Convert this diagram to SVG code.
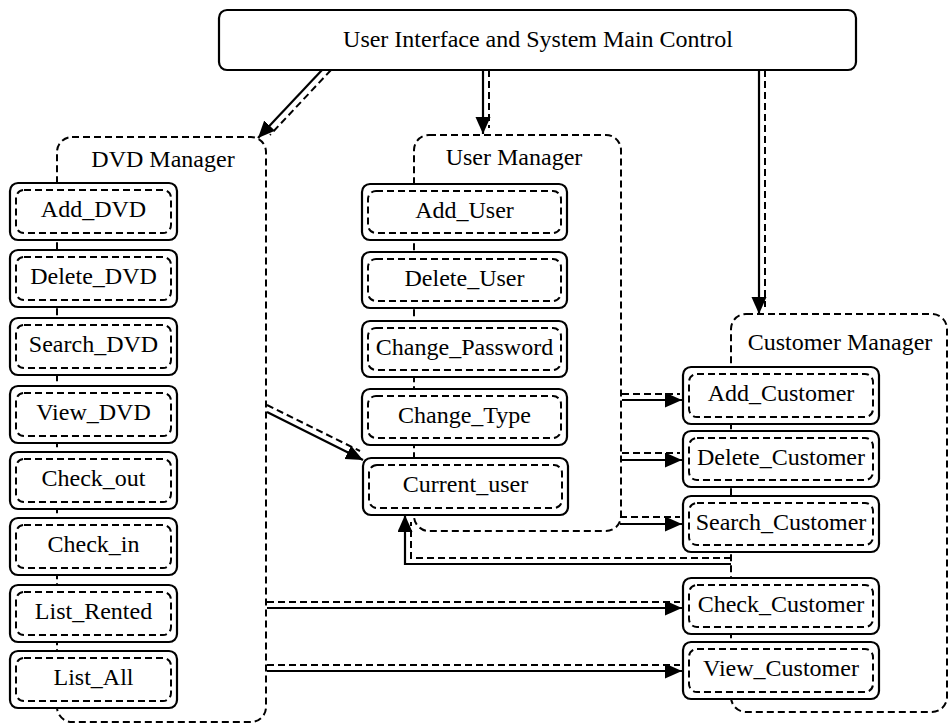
<svg xmlns="http://www.w3.org/2000/svg" width="951" height="725" viewBox="0 0 951 725">
<style>
  text { font-family: "Liberation Serif", "Times New Roman", serif; font-size: 24px; fill: #000; text-anchor: middle; }
  .box { fill: #fff; stroke: #000; stroke-width: 2.2; }
  .inner { fill: none; stroke: #000; stroke-width: 2; stroke-dasharray: 7 4; }
  .cont { fill: none; stroke: #000; stroke-width: 2; stroke-dasharray: 7 4; }
  .sol { fill: none; stroke: #000; stroke-width: 2.2; }
  .dash { fill: none; stroke: #000; stroke-width: 2; stroke-dasharray: 7 4; }
</style>
<defs>
  <marker id="ah" markerUnits="userSpaceOnUse" markerWidth="18" markerHeight="16" refX="17" refY="7.5" orient="auto">
    <path d="M0,0 L17,7.5 L0,15 z" fill="#000"/>
  </marker>
</defs>
<rect width="951" height="725" fill="#fff"/>

<g id="containers">
  <g id="dvd-manager">
    <rect class="cont" x="57" y="137" width="209" height="585" rx="15"/>
    <text x="163" y="167">DVD Manager</text>
  </g>
  <g id="user-manager">
    <rect class="cont" x="414" y="135" width="207" height="396" rx="15"/>
    <text x="514" y="165">User Manager</text>
  </g>
  <g id="customer-manager">
    <rect class="cont" x="731" y="314" width="216" height="398" rx="15"/>
    <text x="840" y="350">Customer Manager</text>
  </g>
</g>

<g id="main-control">
  <rect class="box" x="219" y="10" width="637" height="60" rx="8"/>
  <text x="538" y="47">User Interface and System Main Control</text>
</g>

<g id="add-dvd"><rect class="box" x="10" y="183" width="167" height="57" rx="8"/><rect class="inner" x="16" y="190" width="155" height="43" rx="8"/><text x="93.5" y="217">Add_DVD</text></g>
<g id="delete-dvd"><rect class="box" x="10" y="250" width="167" height="57" rx="8"/><rect class="inner" x="16" y="257" width="155" height="43" rx="8"/><text x="93.5" y="284">Delete_DVD</text></g>
<g id="search-dvd"><rect class="box" x="10" y="318" width="167" height="57" rx="8"/><rect class="inner" x="16" y="325" width="155" height="43" rx="8"/><text x="93.5" y="352">Search_DVD</text></g>
<g id="view-dvd"><rect class="box" x="10" y="386" width="167" height="57" rx="8"/><rect class="inner" x="16" y="393" width="155" height="43" rx="8"/><text x="93.5" y="420">View_DVD</text></g>
<g id="check-out"><rect class="box" x="10" y="452" width="167" height="57" rx="8"/><rect class="inner" x="16" y="459" width="155" height="43" rx="8"/><text x="93.5" y="486">Check_out</text></g>
<g id="check-in"><rect class="box" x="10" y="518" width="167" height="57" rx="8"/><rect class="inner" x="16" y="525" width="155" height="43" rx="8"/><text x="93.5" y="552">Check_in</text></g>
<g id="list-rented"><rect class="box" x="10" y="585" width="167" height="57" rx="8"/><rect class="inner" x="16" y="592" width="155" height="43" rx="8"/><text x="93.5" y="619">List_Rented</text></g>
<g id="list-all"><rect class="box" x="10" y="651" width="167" height="57" rx="8"/><rect class="inner" x="16" y="658" width="155" height="43" rx="8"/><text x="93.5" y="685">List_All</text></g>

<g id="add-user"><rect class="box" x="362" y="184" width="205" height="56" rx="8"/><rect class="inner" x="368" y="191" width="193" height="42" rx="8"/><text x="464.5" y="218">Add_User</text></g>
<g id="delete-user"><rect class="box" x="362" y="252" width="205" height="56" rx="8"/><rect class="inner" x="368" y="259" width="193" height="42" rx="8"/><text x="464.5" y="286">Delete_User</text></g>
<g id="change-password"><rect class="box" x="362" y="321" width="205" height="56" rx="8"/><rect class="inner" x="368" y="328" width="193" height="42" rx="8"/><text x="464.5" y="355">Change_Password</text></g>
<g id="change-type"><rect class="box" x="362" y="389" width="205" height="56" rx="8"/><rect class="inner" x="368" y="396" width="193" height="42" rx="8"/><text x="464.5" y="423">Change_Type</text></g>
<g id="current-user"><rect class="box" x="363" y="458" width="205" height="57" rx="8"/><rect class="inner" x="369" y="465" width="193" height="43" rx="8"/><text x="465.5" y="492">Current_user</text></g>

<g id="add-customer"><rect class="box" x="683" y="367" width="196" height="57" rx="8"/><rect class="inner" x="689" y="374" width="184" height="43" rx="8"/><text x="781" y="401">Add_Customer</text></g>
<g id="delete-customer"><rect class="box" x="683" y="431" width="196" height="56" rx="8"/><rect class="inner" x="689" y="438" width="184" height="42" rx="8"/><text x="781" y="465">Delete_Customer</text></g>
<g id="search-customer"><rect class="box" x="683" y="496" width="196" height="56" rx="8"/><rect class="inner" x="689" y="503" width="184" height="42" rx="8"/><text x="781" y="530">Search_Customer</text></g>
<g id="check-customer"><rect class="box" x="683" y="578" width="196" height="56" rx="8"/><rect class="inner" x="689" y="585" width="184" height="42" rx="8"/><text x="781" y="612">Check_Customer</text></g>
<g id="view-customer"><rect class="box" x="683" y="642" width="196" height="57" rx="8"/><rect class="inner" x="689" y="649" width="184" height="43" rx="8"/><text x="781" y="676">View_Customer</text></g>

<g id="connectors">
  <path class="sol" d="M322,70 L258,138" marker-end="url(#ah)"/>
  <path class="dash" d="M331,70 L270,135"/>
  <path class="sol" d="M483,70 L483,134" marker-end="url(#ah)"/>
  <path class="dash" d="M489,70 L489,128"/>
  <path class="sol" d="M759,70 L759,314" marker-end="url(#ah)"/>
  <path class="dash" d="M765,70 L765,307"/>
  <path class="sol" d="M267,412 L363,460" marker-end="url(#ah)"/>
  <path class="dash" d="M267,405 L360,451"/>
  <path class="sol" d="M622,400 L682,400" marker-end="url(#ah)"/>
  <path class="dash" d="M622,394 L680,394"/>
  <path class="sol" d="M622,460 L682,460" marker-end="url(#ah)"/>
  <path class="dash" d="M622,453 L680,453"/>
  <path class="sol" d="M620,524 L682,524" marker-end="url(#ah)"/>
  <path class="dash" d="M620,517 L680,517"/>
  <path class="sol" d="M731,564 L405,564 L405,515" marker-end="url(#ah)"/>
  <path class="dash" d="M731,558 L411,558 L411,522"/>
  <path class="sol" d="M267,608 L682,608" marker-end="url(#ah)"/>
  <path class="dash" d="M267,602 L680,602"/>
  <path class="sol" d="M267,671 L682,671" marker-end="url(#ah)"/>
  <path class="dash" d="M267,665 L680,665"/>
</g>
</svg>
